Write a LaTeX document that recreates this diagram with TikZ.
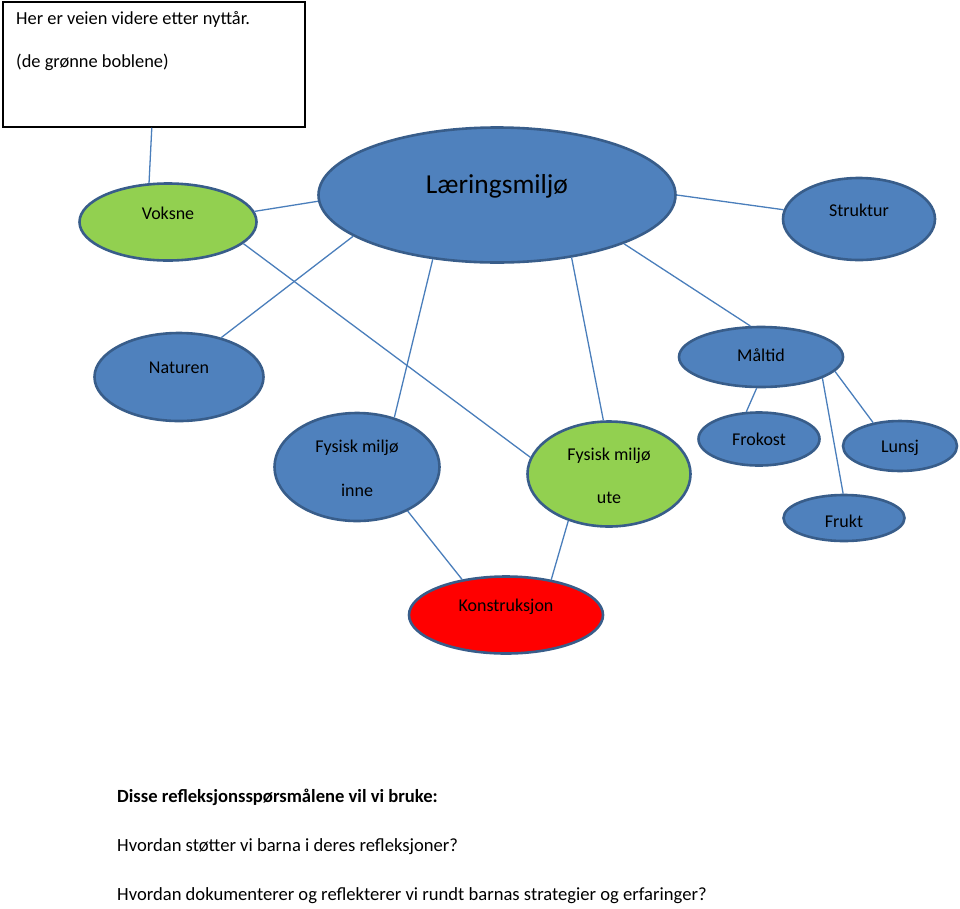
\documentclass[tikz,border=0pt]{standalone}
\usepackage{fontspec}
\setmainfont{Carlito}
\usetikzlibrary{shapes.geometric}
\definecolor{obl}{HTML}{4F81BD}
\definecolor{obd}{HTML}{385D8A}
\definecolor{ogr}{HTML}{92D050}
\definecolor{ored}{HTML}{FF0000}
\definecolor{conn}{HTML}{4A7EBB}
\begin{document}
\begin{tikzpicture}[x=1pt,y=-1pt,
  bub/.style={ellipse, draw=obd, line width=2.6pt, inner sep=0pt},
  bblue/.style={fill=obl},
  bgreen/.style={fill=ogr},
  bred/.style={fill=ored},
  lbl/.style={font=\fontsize{18}{22}\selectfont, text=black, inner sep=0pt},
  boxtxt/.style={font=\fontsize{18.4}{22}\selectfont, text=black, inner sep=0pt, anchor=west},
  qtxt/.style={font=\fontsize{18.6}{22}\selectfont, text=black, inner sep=0pt, anchor=west},
  con/.style={draw=conn, line width=1.3pt}]
\useasboundingbox (0,0) rectangle (960,908);

% note box
\node[draw=black, line width=1.5pt, minimum width=302pt, minimum height=125pt, inner sep=0pt] (box) at (154,64.5) {};
\node[boxtxt] (b1) at (16,19) {Her er veien videre etter nyttår.};
\node[boxtxt] (b2) at (16,62) {(de grønne boblene)};

% bubbles
\node[bub,bblue,minimum width=357pt,minimum height=135pt] (laer) at (497,195) {};
\node[bub,bgreen,minimum width=177pt,minimum height=77pt] (voks) at (168,222) {};
\node[bub,bblue,minimum width=152pt,minimum height=82pt] (strk) at (859,219) {};
\node[bub,bblue,minimum width=169pt,minimum height=88pt] (natr) at (179,377) {};
\node[bub,bblue,minimum width=164pt,minimum height=60pt] (malt) at (761,357) {};
\node[bub,bblue,minimum width=121pt,minimum height=53pt] (frok) at (759,439) {};
\node[bub,bblue,minimum width=114pt,minimum height=50pt] (luns) at (900,446) {};
\node[bub,bblue,minimum width=121pt,minimum height=46pt] (fruk) at (844,518) {};
\node[bub,bblue,minimum width=165pt,minimum height=108pt] (inne) at (357,467) {};
\node[bub,bgreen,minimum width=163pt,minimum height=105pt] (ute) at (609,474) {};
\node[bub,bred,minimum width=194pt,minimum height=77pt] (kons) at (506,615) {};

% labels
\node[lbl, font=\fontsize{27.4}{32}\selectfont] (tlaer) at (497,186) {Læringsmiljø};
\node[lbl] (tvoks) at (168,213) {Voksne};
\node[lbl] (tstrk) at (859,210) {Struktur};
\node[lbl] (tnatr) at (179,368) {Naturen};
\node[lbl] (tmalt) at (761,355) {Måltid};
\node[lbl] (tfrok) at (759,439) {Frokost};
\node[lbl] (tluns) at (900,448) {Lunsj};
\node[lbl] (tfruk) at (844,521) {Frukt};
\node[lbl] (tinne1) at (357,448) {Fysisk miljø};
\node[lbl] (tinne2) at (357,490) {inne};
\node[lbl] (tute1) at (609,456) {Fysisk miljø};
\node[lbl] (tute2) at (609,498) {ute};
\node[lbl] (tkons) at (506,607) {Konstruksjon};

% connectors
\draw[con] (box.268) -- (voks.116.6);
\draw[con] (voks.7) -- (laer.182.2);
\draw[con] (voks.344.7) -- (ute.168.3);
\draw[con] (laer.196.2) -- (natr.43);
\draw[con] (laer.225) -- (inne.53.8);
\draw[con] (laer.320.4) -- (ute.96.3);
\draw[con] (laer.0.6) -- (strk.173.3);
\draw[con] (laer.339.9) -- (malt.109);
\draw[con] (malt.262.6) -- (frok.115.7);
\draw[con] (malt.341.8) -- (fruk.92.4);
\draw[con] (malt.349) -- (luns.139.4);
\draw[con] (inne.319.1) -- (kons.141.5);
\draw[con] (ute.229.5) -- (kons.38.5);

% questions
\node[qtxt, font=\bfseries\fontsize{18.6}{22}\selectfont] (q0) at (117,797) {Disse refleksjonsspørsmålene vil vi bruke:};
\node[qtxt] (q1) at (117,847) {Hvordan støtter vi barna i deres refleksjoner?};
\node[qtxt] (q2) at (117,896) {Hvordan dokumenterer og reflekterer vi rundt barnas strategier og erfaringer?};
\end{tikzpicture}
\end{document}
